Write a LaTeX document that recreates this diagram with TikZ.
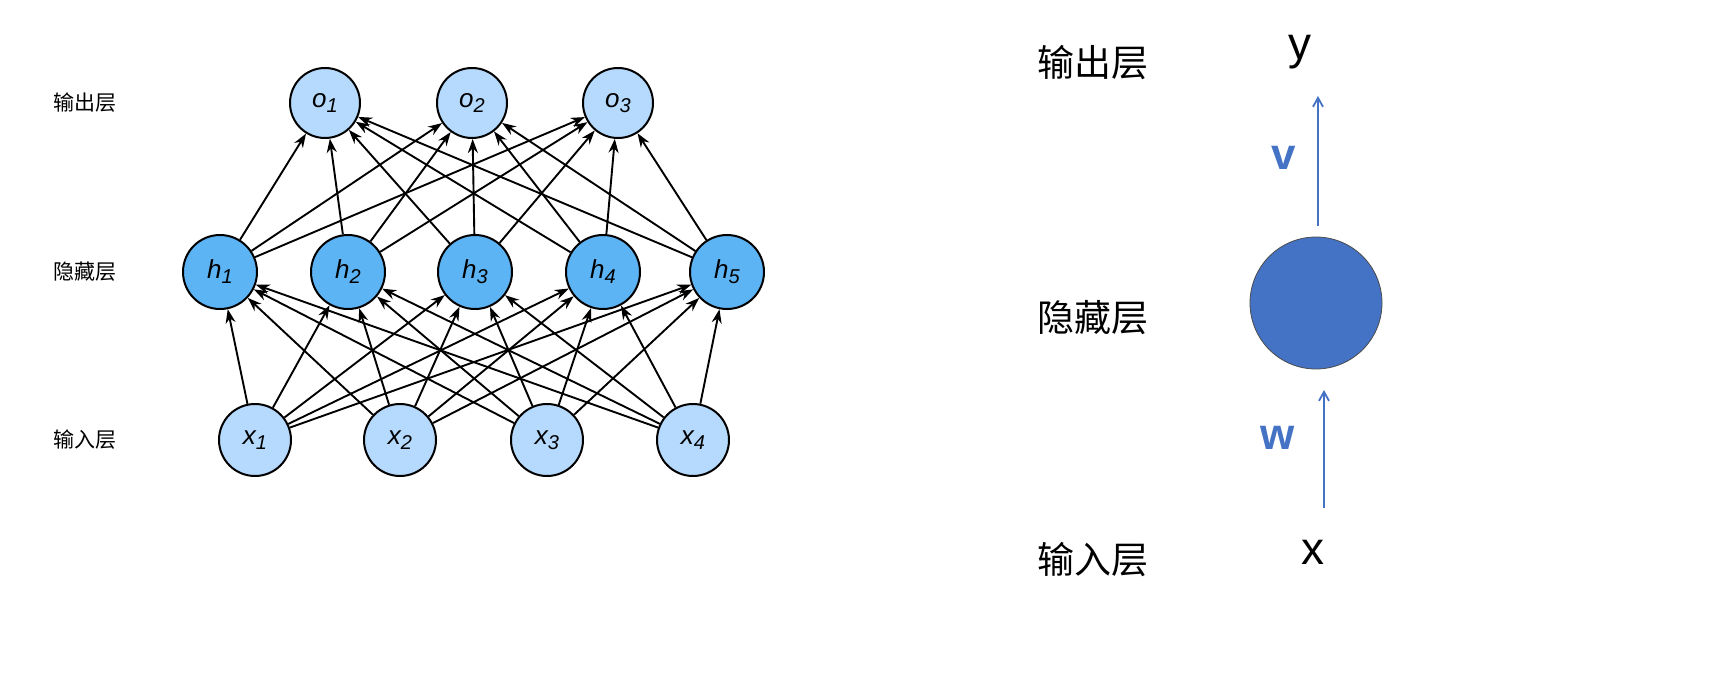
\documentclass[tikz,border=0pt]{standalone}
\usepackage{fontspec}
\setsansfont{Liberation Sans}
\newfontfamily\cjk{Noto Sans CJK SC}
\usetikzlibrary{arrows.meta}
\definecolor{lightb}{HTML}{B5DAFD}
\definecolor{hidb}{HTML}{5DB4F4}
\definecolor{darkb}{HTML}{4472C4}
\tikzset{
 neu/.style={circle,draw=black,line width=2pt,minimum size=70pt,inner sep=0pt,font=\sffamily\itshape\fontsize{26}{26}\selectfont},
 conn/.style={-{Stealth[length=14pt,width=10pt]},line width=1.9pt},
 lab/.style={font=\cjk\fontsize{21}{21}\selectfont},
 biglab/.style={font=\cjk\fontsize{37}{37}\selectfont},
 blue arrow/.style={-{Straight Barb[length=9pt,width=10pt]},draw=darkb,line width=1.8pt},
 bluetxt/.style={text=darkb,font=\sffamily\bfseries\fontsize{44}{44}\selectfont}
}
\begin{document}
\begin{tikzpicture}[x=1pt,y=-1pt]
\useasboundingbox (0,0) rectangle (1722,674);
\foreach \i/\x in {1/325,2/472,3/618}
  \node[neu,fill=lightb] (o\i) at (\x,103) {o\raisebox{-5pt}{\fontsize{20}{20}\selectfont\i}};
\foreach \i/\x in {1/220,2/348,3/475,4/603,5/727}
  \node[neu,fill=hidb,minimum size=74pt] (h\i) at (\x,272) {h\raisebox{-5pt}{\fontsize{20}{20}\selectfont\i}};
\foreach \i/\x in {1/255,2/400,3/547,4/693}
  \node[neu,fill=lightb,minimum size=72pt] (x\i) at (\x,440) {x\raisebox{-5pt}{\fontsize{20}{20}\selectfont\i}};
\foreach \a in {1,...,5}{
  \foreach \b in {1,2,3} \draw[conn] (h\a) -- (o\b);
  \foreach \c in {1,...,4} \draw[conn] (x\c) -- (h\a);
}
\node[lab] (l1) at (85,103) {输出层};
\node[lab] (l2) at (85,272) {隐藏层};
\node[lab] (l3) at (85,440) {输入层};
\node[biglab] (r1) at (1093,63) {输出层};
\node[biglab] (r2) at (1093,318) {隐藏层};
\node[biglab] (r3) at (1093,560) {输入层};
\node[font=\sffamily\fontsize{46}{46}\selectfont] (y) at (1300,52) {y};
\node[font=\sffamily\fontsize{46}{46}\selectfont] (xx) at (1313,552) {x};
\node[circle,fill=darkb,draw=black!70,line width=0.8pt,minimum size=132pt,inner sep=0pt] (c) at (1316,303) {};
\coordinate (a1) at (1318,226);
\coordinate (a2) at (1318,96);
\coordinate (b1) at (1324,508);
\coordinate (b2) at (1324,390);
\draw[blue arrow] (a1) -- (a2);
\draw[blue arrow] (b1) -- (b2);
\node[bluetxt] (v) at (1284,158) {v};
\node[bluetxt] (w) at (1278,438) {w};
\end{tikzpicture}
\end{document}
